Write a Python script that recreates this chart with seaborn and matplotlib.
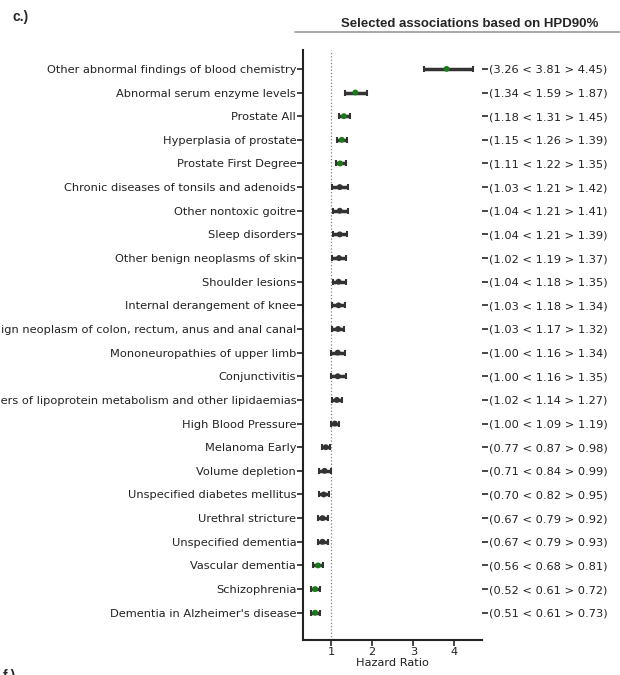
import numpy as np
import pandas as pd
import seaborn as sns
import matplotlib.pyplot as plt

# data (rows top to bottom)
labels = [
    "Other abnormal findings of blood chemistry",
    "Abnormal serum enzyme levels",
    "Prostate All",
    "Hyperplasia of prostate",
    "Prostate First Degree",
    "Chronic diseases of tonsils and adenoids",
    "Other nontoxic goitre",
    "Sleep disorders",
    "Other benign neoplasms of skin",
    "Shoulder lesions",
    "Internal derangement of knee",
    "Benign neoplasm of colon, rectum, anus and anal canal",
    "Mononeuropathies of upper limb",
    "Conjunctivitis",
    "Disorders of lipoprotein metabolism and other lipidaemias",
    "High Blood Pressure",
    "Melanoma Early",
    "Volume depletion",
    "Unspecified diabetes mellitus",
    "Urethral stricture",
    "Unspecified dementia",
    "Vascular dementia",
    "Schizophrenia",
    "Dementia in Alzheimer's disease",
]
lower = [3.26, 1.34, 1.18, 1.15, 1.11, 1.03, 1.04, 1.04, 1.02, 1.04, 1.03, 1.03,
         1.00, 1.00, 1.02, 1.00, 0.77, 0.71, 0.70, 0.67, 0.67, 0.56, 0.52, 0.51]
mean = [3.81, 1.59, 1.31, 1.26, 1.22, 1.21, 1.21, 1.21, 1.19, 1.18, 1.18, 1.17,
        1.16, 1.16, 1.14, 1.09, 0.87, 0.84, 0.82, 0.79, 0.79, 0.68, 0.61, 0.61]
upper = [4.45, 1.87, 1.45, 1.39, 1.35, 1.42, 1.41, 1.39, 1.37, 1.35, 1.34, 1.32,
         1.34, 1.35, 1.27, 1.19, 0.98, 0.99, 0.95, 0.92, 0.93, 0.81, 0.72, 0.73]
highlight = [True] * 5 + [False] * 16 + [True] * 3

df = pd.DataFrame({"label": labels, "lower": lower, "mean": mean,
                   "upper": upper, "highlight": highlight})
df["pos"] = np.arange(len(df))

sns.set_style("ticks")
plt.rcParams['font.family'] = ['DejaVu Sans']
fs = 8.2

fig = plt.figure(figsize=(6.2, 6.75), dpi=100)
ax = fig.add_axes([0.489, 0.052, 0.289, 0.874])

bar_col = "#333333"
ax.errorbar(df["mean"], df["pos"],
            xerr=[df["mean"] - df["lower"], df["upper"] - df["mean"]],
            fmt="none", ecolor=bar_col, elinewidth=2.5, capsize=2.5,
            capthick=1.5, zorder=2)
df["dot"] = np.where(df["highlight"], "sig", "ns")
sns.scatterplot(data=df, x="mean", y="pos", hue="dot",
                palette={"sig": "#1a7a1a", "ns": bar_col},
                s=18, edgecolor="none", legend=False, zorder=3, ax=ax)
ax.axvline(1, color="gray", linestyle=":", linewidth=0.9, zorder=1)

ax.set_ylim(len(df) + 0.15, -0.8)
ax.set_xlim(0.32, 4.68)
ax.set_xticks([1, 2, 3, 4])
ax.set_yticks(df["pos"])
ax.set_yticklabels(df["label"], fontsize=fs, color="#222222")
ax.tick_params(axis="x", labelsize=fs, length=4, width=1.2, pad=1,
               labelcolor="#222222")
ax.tick_params(axis="y", length=4, width=1.2, pad=1)
ax.set_xlabel("Hazard Ratio", fontsize=fs, labelpad=1, color="#222222")
ax.set_ylabel("")
for s in ["left", "bottom"]:
    ax.spines[s].set_linewidth(1.5)
    ax.spines[s].set_color("#222222")
sns.despine(ax=ax)

# right side interval labels
ax2 = ax.twinx()
ax2.set_ylim(ax.get_ylim())
ax2.set_yticks(df["pos"])
ax2.set_yticklabels([f"({l:.2f} < {m:.2f} > {u:.2f})"
                     for l, m, u in zip(lower, mean, upper)],
                    fontsize=fs, color="#222222")
ax2.tick_params(axis="y", length=4, width=1.2, pad=1)
for s in ax2.spines.values():
    s.set_visible(False)

fig.text(0.758, 0.965, "Selected associations based on HPD90%",
         fontsize=9.5, fontweight="bold", family="Liberation Sans",
         ha="center", va="center")
fig.add_artist(plt.Line2D([0.476, 1.0], [0.953, 0.953], color="#999999",
                          linewidth=1.2, transform=fig.transFigure))
fig.text(0.02, 0.985, "c.)", fontsize=10, fontweight="bold",
         family="Liberation Sans", ha="left", va="top")
fig.text(0.005, -0.012, "f.)", fontsize=10, fontweight="bold",
         family="Liberation Sans", ha="left", va="bottom")

fig.savefig("out.png", dpi=100)
